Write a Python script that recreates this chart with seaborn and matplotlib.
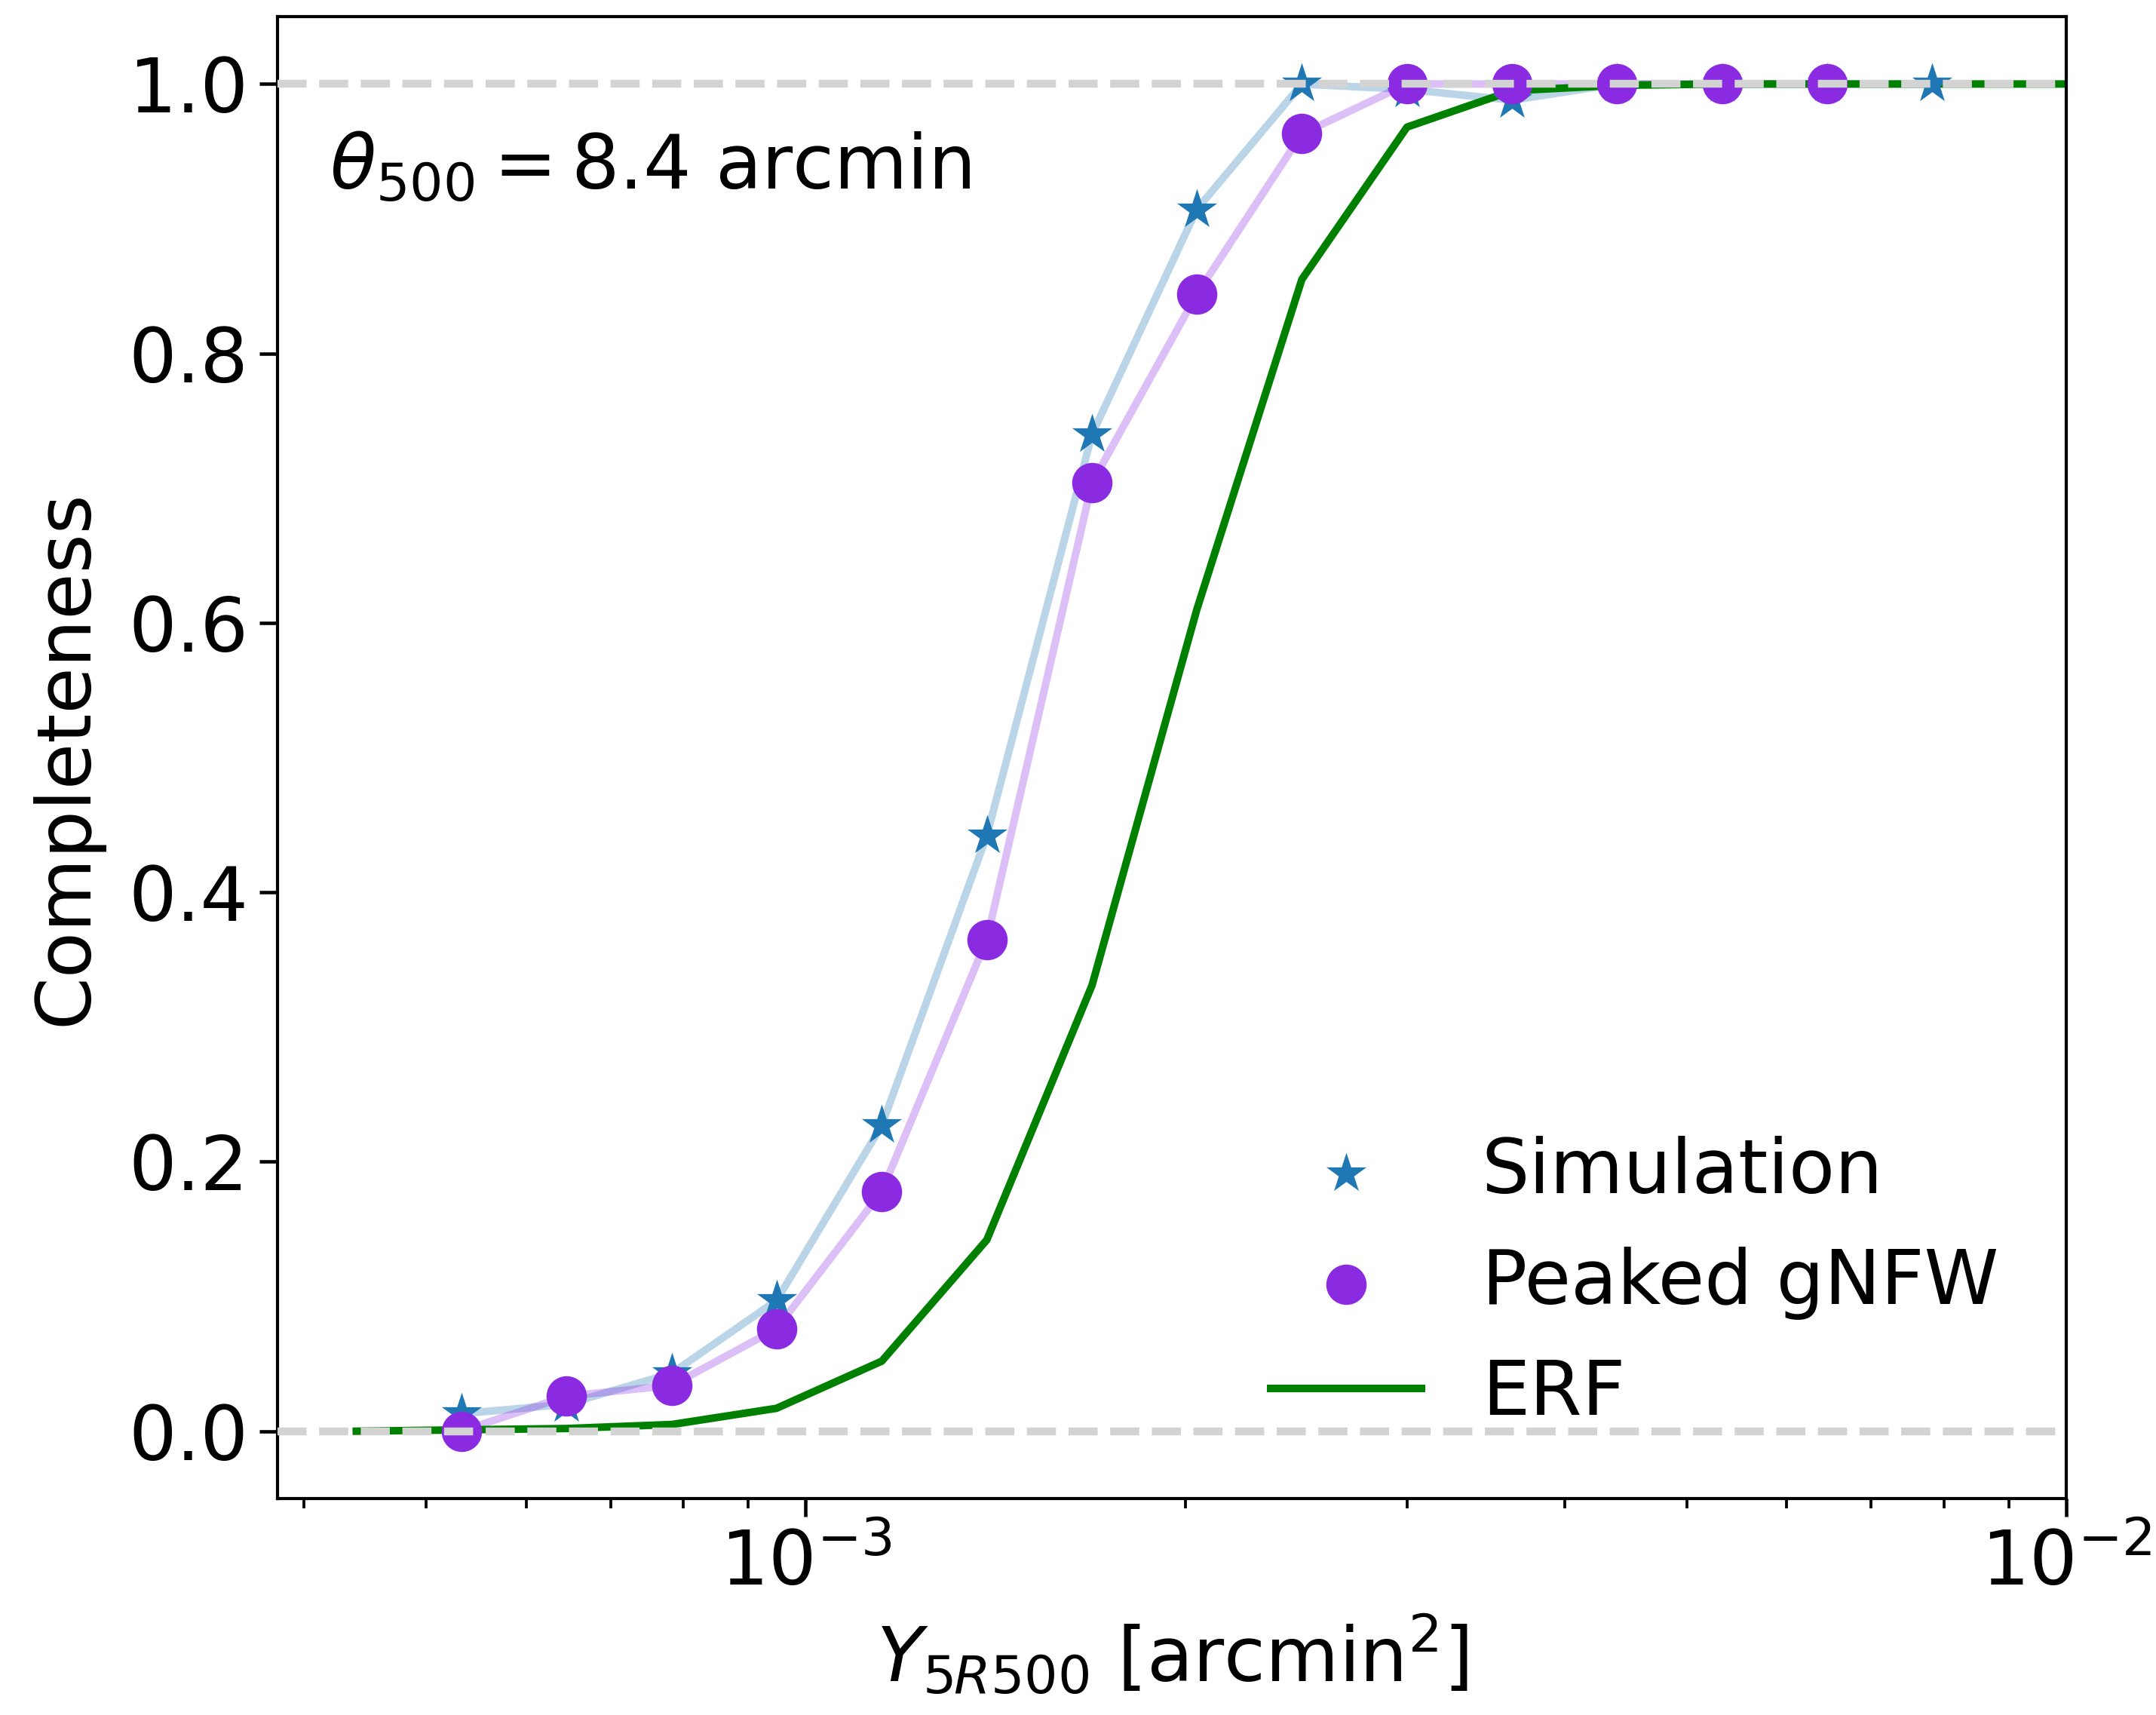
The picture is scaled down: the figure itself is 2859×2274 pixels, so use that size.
import matplotlib

matplotlib.use("Agg")
import matplotlib.pyplot as plt
import numpy as np
import pandas as pd
import seaborn as sns


# bin centres (12 bins per decade)
y_bins = [5.33e-4, 6.46e-4, 7.83e-4, 9.48e-4, 1.149e-3, 1.392e-3, 1.687e-3, 2.043e-3,
          2.475e-3, 2.999e-3, 3.634e-3, 4.402e-3, 5.333e-3, 6.46e-3, 7.83e-3]
sim_completeness = [0.013, 0.020, 0.043, 0.097, 0.227, 0.442, 0.740, 0.907,
                    1.000, 0.996, 0.988, 1.000, 1.000, 1.000, 1.000]
gnfw_completeness = [0.000, 0.026, 0.034, 0.076, 0.178, 0.365, 0.704, 0.844,
                     0.963, 1.000, 1.000, 1.000, 1.000, 1.000]
erf_x = [4.40e-4] + y_bins + [9.48e-3, 1.149e-2]
erf_completeness = [0.000, 0.001, 0.002, 0.005, 0.017, 0.052, 0.142, 0.331, 0.610,
                    0.855, 0.968, 0.995, 0.999, 1.000, 1.000, 1.000, 1.000, 1.000]
theta500 = 8.4

sim = pd.DataFrame({"Y": y_bins, "C": sim_completeness})
gnfw = pd.DataFrame({"Y": y_bins[:len(gnfw_completeness)], "C": gnfw_completeness})
erf = pd.DataFrame({"Y": erf_x, "C": erf_completeness})

plt.rcParams.update({
    "font.size": 24,
    "axes.linewidth": 1.0,
    "xtick.major.size": 5.8, "ytick.major.size": 5.8,
    "xtick.major.width": 1.1, "ytick.major.width": 1.1,
    "xtick.minor.size": 3.0, "xtick.minor.width": 0.9,
})

fig, ax = plt.subplots(figsize=(9.53, 7.58))
fig.subplots_adjust(left=0.1287, right=0.9584, top=0.9903, bottom=0.1262)

sns.lineplot(data=sim, x="Y", y="C", color="tab:blue", alpha=0.3, lw=2.4, ax=ax)
sns.lineplot(data=gnfw, x="Y", y="C", color="blueviolet", alpha=0.3, lw=2.4, ax=ax)
sns.lineplot(data=erf, x="Y", y="C", color="green", lw=2.4, label="ERF", ax=ax, zorder=2.2)
sns.scatterplot(data=sim, x="Y", y="C", marker="*", s=180, color="tab:blue",
                linewidth=0, label="Simulation", ax=ax, zorder=2.5)
sns.scatterplot(data=gnfw, x="Y", y="C", marker="o", s=165, color="blueviolet",
                linewidth=0, label="Peaked gNFW", ax=ax, zorder=2.5)

for level in (0, 1):
    ax.axhline(level, color="lightgray", ls="--", lw=2.5, zorder=3)

ax.set_xscale("log")
ax.set_xlim(3.81e-4, 1e-2)
ax.set_ylim(-0.05, 1.05)
ax.set_xlabel(r"$Y_{5R500}$ [arcmin$^2$]", labelpad=4)
ax.set_ylabel("Completeness", labelpad=8)
ax.text(0.029, 0.898, rf"$\theta_{{500}} = {theta500}$ arcmin", transform=ax.transAxes,
        ha="left", va="center")

handles, labels = ax.get_legend_handles_labels()
order = [labels.index(k) for k in ("Simulation", "Peaked gNFW", "ERF")]
ax.legend([handles[i] for i in order], [labels[i] for i in order],
          loc="lower right", frameon=False)

fig.savefig("out.png", dpi=300)
